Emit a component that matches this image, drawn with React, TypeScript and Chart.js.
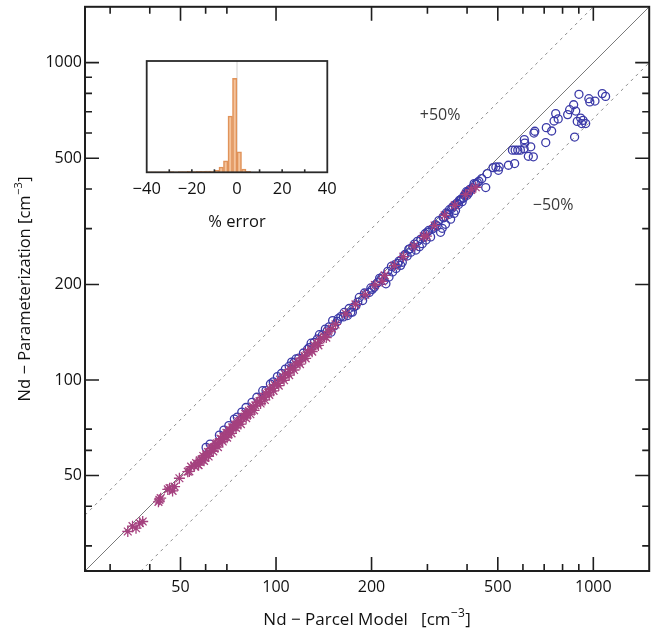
import React, { useEffect, useRef } from 'react';
import { Chart, registerables } from 'chart.js';

Chart.register(...registerables);

const FONT = "'Open Sans', 'DejaVu Sans', sans-serif";

// ---- main axes ----
const AXIS_MIN = 25;
const AXIS_MAX = 1500;
const TICK_VALUES = [30, 40, 50, 60, 70, 100, 200, 300, 400, 500, 600, 700, 800, 900, 1000];
const MAJOR_TICKS = [50, 100, 200, 500, 1000];
const X_TITLE = ['Nd \u2212 Parcel Model   [cm', '\u22123', ']'];
const Y_TITLE = ['Nd \u2212 Parameterization [cm', '\u22123', ']'];

// reference lines: 1:1, +50% and -50%
const ONE_TO_ONE = [[25, 25], [1500, 1500]];
const PLUS_50 = [[25, 37.5], [1000, 1500]];
const MINUS_50 = [[37.5, 25], [1500, 1000]];
const LINE_LABELS = [
  { text: '+50%', x: 329, y: 682 },
  { text: '\u221250%', x: 747, y: 356 },
];

// ---- circles (one series) ----
const CIRCLE_X = [
  60.2, 62.0, 66.3, 68.5, 71, 73.9, 75.5, 78, 80.4, 84, 87, 90.8, 93.0, 96, 98.0, 101, 104, 107, 110, 112, 114,
  115.6, 118, 122, 125.7, 127.3, 129, 132, 135, 137, 140, 143, 145, 147, 149, 150.8, 152.6, 156, 157, 160, 163,
  164, 168, 170, 172, 174, 176, 178.6, 181, 183, 187.5, 190, 192, 196.7, 199, 201, 204, 206, 209, 212, 214, 217,
  219, 222, 225, 227, 231, 233, 237, 239, 242, 244, 247, 250, 253, 255, 259, 262, 264, 266, 270, 273, 276, 279,
  283, 286, 289, 292, 295, 297, 300, 303, 307, 312, 315, 318, 322, 326, 330, 334, 336, 338, 342, 344, 346, 350,
  352, 355, 358, 361, 364, 366, 368, 372, 376, 378, 381, 384, 386, 390, 392, 395, 398, 400, 403, 405, 408, 411,
  426, 431,
  409, 416, 421, 436, 445, 458, 463, 483, 493, 502, 505, 540, 565, 556, 567, 578, 589, 605, 624, 647, 635, 606,
  608, 708, 873, 650, 654, 711, 739, 752, 775, 761, 830, 880, 842, 867, 890, 912, 928, 919, 946, 975, 1012, 968,
  901, 1067, 1093,
];
const CIRCLE_Y = [
  61.3, 62.8, 67.0, 69.5, 71.8, 75.3, 76.4, 79.2, 81.9, 85.0, 88.2, 92.5, 92.6, 97.1, 98.6, 102.5, 104.8, 108.2,
  110.5, 113.8, 113.5, 116.5, 117.2, 121.6, 125.0, 126.5, 130.6, 131.4, 134.6, 138.9, 138.6, 144.6, 142.8, 147.0,
  141.5, 153.8, 148.0, 152.9, 156, 158.4, 158, 163.2, 159.6, 168, 163.4, 163.6, 170, 171.5, 176, 182.0, 178.0, 188,
  186.2, 188.8, 195, 193.0, 196, 199.8, 202.7, 209, 207.6, 212, 205.9, 200.9, 220, 211.0, 228, 219.0, 231, 224.7,
  233, 236.7, 229.7, 235.0, 246, 248.6, 246.0, 258.0, 259, 252.7, 263.0, 268, 256.7, 273.4, 263.0, 278, 268.8,
  281.8, 289, 276.0, 292.5, 296, 282.4, 299.5, 303, 308.5, 306.0, 318, 292.0, 300.6, 326, 324.5, 309.5, 336, 333.9,
  332.5, 344, 321.3, 347.3, 352, 334.9, 356, 342.2, 360.8, 357.2, 368, 369.6, 372, 364.8, 374.4, 382, 385.0, 392,
  382.0, 393, 388.8, 398, 397, 415, 419,
  398, 404, 416, 423, 431, 404, 447, 467, 469, 458, 469, 475, 481, 530, 530, 530, 530, 536, 507, 505, 543, 572,
  558, 560, 583, 600, 608, 624, 609, 655, 665, 691, 686, 704, 711, 737, 653, 669, 658, 643, 643, 752, 757, 770,
  795, 799, 783,
];

// ---- asterisks (second series) ----
const STAR_X = [
  34.1, 35.3, 36.2, 37.2, 38.0, 42.6, 42.9, 43.3, 45.6, 46.2, 47.2, 47.9, 49.6, 52.7, 53.3, 54.0,
  55.2, 56.0, 56.8, 57.5, 58.3, 59.0, 59.6, 60.3, 61.0, 61.7, 62.4, 63.0, 63.8, 64.5, 65.2, 66.0, 66.8, 67.5,
  68.2, 69.0, 69.8, 70.5, 71.3, 72.0, 72.8, 73.5, 74.3, 75.2, 76.0, 77.0, 78.0, 79.0, 80.0, 81.0, 82.2, 83.5,
  84.6, 86.0, 87.4, 88.7, 90.0, 91.5, 93.0, 94.5, 96.0, 97.5, 99.0, 101, 103, 105, 107, 109, 111, 113, 115.5,
  118, 120.5, 123, 126, 129, 132, 135, 138, 142, 146, 150, 154, 166, 178, 191, 205, 220, 236, 252, 272, 292,
  316, 340, 366, 396, 412, 426,
  57.0, 59.3, 61.3, 63.4, 65.6, 67.9, 70.1, 72.4, 74.8, 77.5, 80.5, 83.0, 85.3, 89.4, 92.2, 95.2, 98.2, 102, 106,
  110, 114, 119, 124, 130, 136, 144, 216, 298,
];
const STAR_Y = [
  33.3, 34.6, 34.1, 35.4, 35.8, 41.3, 41.9, 42.4, 45.2, 45.6, 44.7, 46.1, 49.0, 51.4, 51.5, 53.3,
  53.6, 54.7, 54.0, 55.8, 56.1, 57.6, 56.9, 58.4, 59.3, 59.0, 60.8, 61.2, 61.0, 62.9, 63.1, 63.5, 65.3, 65.0,
  66.4, 66.2, 68.1, 68.0, 69.6, 69.3, 70.9, 71.0, 72.3, 72.4, 74.1, 74.2, 75.9, 76.5, 78.2, 77.8, 79.9, 80.6,
  82.4, 83.1, 85.0, 85.6, 87.8, 88.4, 90.6, 91.2, 93.5, 94.3, 96.5, 97.6, 100.2, 101.5, 104.3, 105.2, 108.1,
  109.3, 112.4, 114.0, 117.3, 119.0, 122.6, 124.5, 128.6, 130.4, 134.3, 137.2, 142.0, 145.2, 149.6, 161.5, 173.0,
  185.6, 199.2, 213.7, 229.4, 244.8, 264.0, 283.6, 306.7, 330.2, 355.1, 384.2, 397.5, 405,
  53.9, 55.6, 57.4, 59.6, 61.4, 64.0, 65.8, 67.9, 70.6, 72.6, 75.8, 78.0, 80.2, 84.3, 86.5, 89.8, 92.4, 96.0,
  99.8, 103.6, 107.5, 112.2, 117.0, 122.8, 128.5, 136.0, 204.6, 284.0,
];

// ---- inset histogram (% error) ----
const HIST_CENTERS = [
  -39, -37, -35, -33, -31, -29, -27, -25, -23, -21, -19, -17, -15, -13, -11, -9, -7, -5, -3, -1, 1, 3, 5, 7,
];
const HIST_COUNTS = [
  0.5, 0.5, 0.4, 0.5, 0.4, 0.6, 0.5, 0.7, 0.6, 0.8, 0.7, 0.9, 0.8, 1.0, 1.2, 1.8, 4.8, 10.2, 50.6, 84.5, 18.5,
  3.0, 0.8, 0,
];
const HIST_MAX = 100;
const INSET_TICKS = [-30, -20, -10, 10, 20, 30];
const INSET_TITLE = '% error';

const pts = (xs: number[], ys: number[]) => xs.map((x, i) => ({ x, y: ys[i] }));
const pairs = (arr: number[][]) => arr.map(([x, y]) => ({ x, y }));

function drawSupText(ctx: CanvasRenderingContext2D, parts: string[], cx: number, cy: number, size: number) {
  const main = `${size}px ${FONT}`;
  const sup = `${Math.round(size * 0.68)}px ${FONT}`;
  ctx.font = main;
  const w0 = ctx.measureText(parts[0]).width;
  const w2 = ctx.measureText(parts[2]).width;
  ctx.font = sup;
  const w1 = ctx.measureText(parts[1]).width;
  const total = w0 + w1 + w2 + 1;
  let x = cx - total / 2;
  ctx.textBaseline = 'middle';
  ctx.textAlign = 'left';
  ctx.font = main;
  ctx.fillText(parts[0], x, cy);
  x += w0 + 0.5;
  ctx.font = sup;
  ctx.fillText(parts[1], x, cy - size * 0.38);
  x += w1 + 0.5;
  ctx.font = main;
  ctx.fillText(parts[2], x, cy);
}

export default function App() {
  const mainRef = useRef<HTMLCanvasElement>(null);
  const insetRef = useRef<HTMLCanvasElement>(null);

  useEffect(() => {
    Chart.defaults.font.family = FONT;

    const framePlugin = {
      id: 'frameTicks',
      afterDraw(chart: any) {
        const { ctx, chartArea: a, scales } = chart;
        const xs = scales.x;
        const ys = scales.y;
        ctx.save();
        ctx.strokeStyle = '#1e1e1e';
        ctx.lineWidth = 1.6;
        for (const v of TICK_VALUES) {
          const len = MAJOR_TICKS.includes(v) ? 14 : 7;
          const px = xs.getPixelForValue(v);
          const py = ys.getPixelForValue(v);
          ctx.beginPath();
          ctx.moveTo(px, a.bottom);
          ctx.lineTo(px, a.bottom - len);
          ctx.moveTo(px, a.top);
          ctx.lineTo(px, a.top + len);
          ctx.moveTo(a.left, py);
          ctx.lineTo(a.left + len, py);
          ctx.moveTo(a.right, py);
          ctx.lineTo(a.right - len, py);
          ctx.stroke();
        }
        ctx.lineWidth = 2;
        ctx.strokeRect(a.left, a.top, a.right - a.left, a.bottom - a.top);

        // line labels
        ctx.fillStyle = '#3a3a3a';
        ctx.font = `16px ${FONT}`;
        ctx.textAlign = 'center';
        ctx.textBaseline = 'middle';
        for (const l of LINE_LABELS) {
          ctx.fillText(l.text, xs.getPixelForValue(l.x), ys.getPixelForValue(l.y));
        }

        // axis titles
        ctx.fillStyle = '#111';
        drawSupText(ctx, X_TITLE, (a.left + a.right) / 2, 620, 17);
        ctx.save();
        ctx.translate(25, (a.top + a.bottom) / 2);
        ctx.rotate(-Math.PI / 2);
        drawSupText(ctx, Y_TITLE, 0, 0, 16.5);
        ctx.restore();
        ctx.restore();
      },
    };

    const logAxis = (isX: boolean) => ({
      type: 'logarithmic' as const,
      position: isX ? 'bottom' : 'left',
      min: AXIS_MIN,
      max: AXIS_MAX,
      grid: { display: false, drawTicks: false },
      border: { display: false },
      afterBuildTicks: (axis: any) => {
        axis.ticks = TICK_VALUES.map((v) => ({ value: v }));
      },
      afterFit: (axis: any) => {
        if (isX) axis.height = 60;
        else axis.width = 85;
        axis.paddingTop = 0;
        axis.paddingBottom = 0;
        axis.paddingLeft = 0;
        axis.paddingRight = 0;
      },
      ticks: {
        autoSkip: false,
        maxRotation: 0,
        minRotation: 0,
        padding: isX ? 7 : 3,
        color: '#111',
        font: { family: FONT, size: 16 },
        callback: (v: any) => (MAJOR_TICKS.includes(Number(v)) ? String(v) : ''),
      },
    });

    const main = new Chart(mainRef.current as HTMLCanvasElement, {
      type: 'scatter',
      data: {
        datasets: [
          {
            label: 'asterisks',
            data: pts(STAR_X, STAR_Y),
            pointStyle: 'star',
            pointRadius: 5.5,
            pointBorderWidth: 1.3,
            pointBorderColor: '#a5417f',
            pointBackgroundColor: '#a5417f',
            order: 0,
          },
          {
            label: 'circles',
            data: pts(CIRCLE_X, CIRCLE_Y),
            pointStyle: 'circle',
            pointRadius: 4,
            pointBorderWidth: 1.3,
            pointBorderColor: '#3b3aa8',
            pointBackgroundColor: 'rgba(0,0,0,0)',
            order: 1,
          },
          {
            type: 'line',
            label: '1:1',
            data: pairs(ONE_TO_ONE),
            showLine: true,
            borderColor: '#7a7a7a',
            borderWidth: 1,
            pointRadius: 0,
            order: 2,
          },
          {
            type: 'line',
            label: '+50%',
            data: pairs(PLUS_50),
            showLine: true,
            borderColor: '#8e8e8e',
            borderWidth: 1,
            borderDash: [3, 4],
            pointRadius: 0,
            order: 2,
          },
          {
            type: 'line',
            label: '-50%',
            data: pairs(MINUS_50),
            showLine: true,
            borderColor: '#8e8e8e',
            borderWidth: 1,
            borderDash: [3, 4],
            pointRadius: 0,
            order: 2,
          },
        ] as any,
      },
      options: {
        responsive: false,
        animation: false,
        layout: { padding: { top: 6, right: 6, left: 0, bottom: 0 } },
        plugins: { legend: { display: false }, tooltip: { enabled: false } },
        scales: { x: logAxis(true) as any, y: logAxis(false) as any },
      },
      plugins: [framePlugin],
    });

    const insetPlugin = {
      id: 'insetFrame',
      beforeDatasetsDraw(chart: any) {
        const { ctx, chartArea: a, scales } = chart;
        const x0 = scales.x.getPixelForValue(0);
        ctx.save();
        ctx.strokeStyle = '#d0d0d0';
        ctx.lineWidth = 1;
        ctx.beginPath();
        ctx.moveTo(x0, a.top);
        ctx.lineTo(x0, a.bottom);
        ctx.stroke();
        ctx.restore();
      },
      afterDraw(chart: any) {
        const { ctx, chartArea: a, scales } = chart;
        ctx.save();
        ctx.strokeStyle = '#2a2a2a';
        ctx.lineWidth = 1.6;
        for (const v of INSET_TICKS) {
          const px = scales.x.getPixelForValue(v);
          ctx.beginPath();
          ctx.moveTo(px, a.bottom);
          ctx.lineTo(px, a.bottom - 3);
          ctx.stroke();
        }
        ctx.lineWidth = 1.8;
        ctx.strokeRect(a.left, a.top, a.right - a.left, a.bottom - a.top);
        ctx.fillStyle = '#111';
        ctx.font = `16.5px ${FONT}`;
        ctx.textAlign = 'center';
        ctx.textBaseline = 'middle';
        ctx.fillText(INSET_TITLE, (a.left + a.right) / 2, 182);
        ctx.restore();
      },
    };

    const inset = new Chart(insetRef.current as HTMLCanvasElement, {
      type: 'bar',
      data: {
        datasets: [
          {
            data: pts(HIST_CENTERS, HIST_COUNTS),
            backgroundColor: 'rgba(245,192,148,0.85)',
            borderColor: '#e0935a',
            borderWidth: 1.5,
            barPercentage: 1,
            categoryPercentage: 1,
          },
        ] as any,
      },
      options: {
        responsive: false,
        animation: false,
        layout: { padding: { left: 46.7, right: 22.7, top: 21, bottom: 0 } },
        plugins: { legend: { display: false }, tooltip: { enabled: false } },
        scales: {
          x: {
            type: 'linear',
            min: -40,
            max: 40,
            offset: false,
            grid: { display: false, drawTicks: false },
            border: { display: false },
            afterFit: (axis: any) => {
              axis.height = 67.7;
              axis.paddingLeft = 0;
              axis.paddingRight = 0;
            },
            ticks: {
              stepSize: 20,
              autoSkip: false,
              maxRotation: 0,
              padding: 7,
              color: '#111',
              font: { family: FONT, size: 16.5 },
              callback: (v: any) => (Number(v) < 0 ? '\u2212' + Math.abs(Number(v)) : String(v)),
            },
          } as any,
          y: { display: false, min: 0, max: HIST_MAX },
        },
      },
      plugins: [insetPlugin],
    });

    return () => {
      main.destroy();
      inset.destroy();
    };
  }, []);

  return (
    <div style={{ position: 'absolute', left: 0, top: 0, width: 656, height: 631, background: '#fff' }}>
      <canvas ref={mainRef} width={656} height={631} style={{ position: 'absolute', left: 0, top: 0 }} />
      <canvas ref={insetRef} width={250} height={200} style={{ position: 'absolute', left: 100, top: 40 }} />
    </div>
  );
}
